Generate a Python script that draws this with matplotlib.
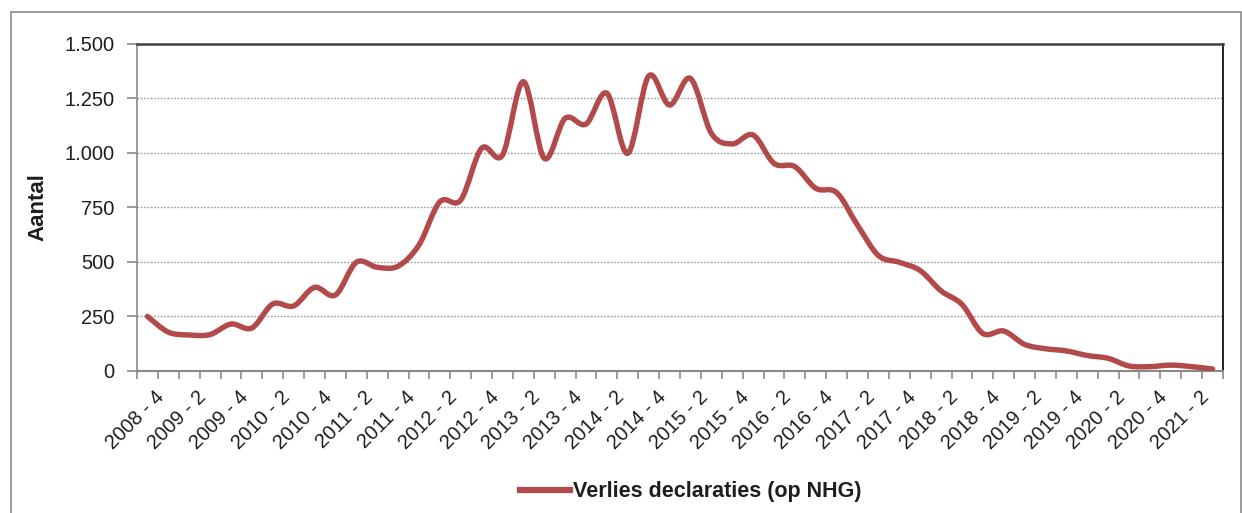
import matplotlib
matplotlib.use("Agg")
import matplotlib.pyplot as plt
from matplotlib.patches import PathPatch, Rectangle
from matplotlib.path import Path
from matplotlib.lines import Line2D
from matplotlib.ticker import FuncFormatter, FixedLocator

plt.rcParams["font.family"] = ["Liberation Sans", "DejaVu Sans"]

# quarters 2008-3 .. 2021-2
years = list(range(2008, 2022))
quarters = [(y, q) for y in years for q in (1, 2, 3, 4) if (2008, 3) <= (y, q) <= (2021, 2)]
quarter_labels = [f"{y} - {q}" for y, q in quarters]

verlies_declaraties = [
    250, 178, 165, 167, 215, 197, 307, 298, 383, 348,
    498, 475, 480, 577, 775, 783, 1020, 989, 1325, 974,
    1157, 1131, 1272, 997, 1351, 1218, 1340, 1089, 1040, 1081,
    951, 936, 837, 817, 668, 529, 498, 460, 367, 305,
    172, 183, 122, 102, 92, 71, 58, 23, 20, 27,
    20, 9,
]

y_ticks = [0, 250, 500, 750, 1000, 1250, 1500]

LINE_COLOR = "#b24a4c"
TEXT_COLOR = "#1e1e1e"


def smooth_path(xs, ys):
    # bezier segments with 1/6 tangents, the way spreadsheet "smoothed lines" work
    verts = [(xs[0], ys[0])]
    codes = [Path.MOVETO]
    n = len(xs)
    for i in range(n - 1):
        x0, y0 = (xs[i - 1], ys[i - 1]) if i > 0 else (xs[i], ys[i])
        x1, y1 = xs[i], ys[i]
        x2, y2 = xs[i + 1], ys[i + 1]
        x3, y3 = (xs[i + 2], ys[i + 2]) if i + 2 < n else (x2, y2)
        c1 = (x1 + (x2 - x0) / 6.0, y1 + (y2 - y0) / 6.0)
        c2 = (x2 - (x3 - x1) / 6.0, y2 - (y3 - y1) / 6.0)
        verts += [c1, c2, (x2, y2)]
        codes += [Path.CURVE4] * 3
    return Path(verts, codes)


fig = plt.figure(figsize=(12.42, 5.13), dpi=100)
fig.patches.append(Rectangle((11 / 1242, -0.1), 1230 / 1242, 1.1 - 12.5 / 513,
                             transform=fig.transFigure, fill=False,
                             edgecolor="#8a8a8a", linewidth=1.2))

ax = fig.add_axes([137 / 1242, 1 - 371 / 513, (1223 - 137) / 1242, (371 - 43.5) / 513])

xs = list(range(len(verlies_declaraties)))
ax.add_patch(PathPatch(smooth_path(xs, verlies_declaraties), fill=False,
                       edgecolor=LINE_COLOR, linewidth=3.9, capstyle="round",
                       joinstyle="round", zorder=3))

ax.set_xlim(-0.5, len(xs) - 0.5)
ax.set_ylim(0, 1500)

ax.set_yticks(y_ticks)
ax.yaxis.set_major_formatter(FuncFormatter(lambda v, _: f"{int(v):,}".replace(",", ".")))
ax.tick_params(axis="y", direction="out", length=7, width=1.2, color="#8a8a8a",
               pad=9, labelsize=14.5, labelcolor=TEXT_COLOR)

# labels on every second quarter, tick marks between categories
label_pos = xs[1::2]
ax.xaxis.set_major_locator(FixedLocator(label_pos))
ax.set_xticklabels(quarter_labels[1::2], rotation=45, ha="right", va="top",
                   fontsize=14.5, color=TEXT_COLOR)
ax.xaxis.set_minor_locator(FixedLocator([x - 0.5 for x in xs] + [xs[-1] + 0.5]))
ax.tick_params(axis="x", which="major", length=0, pad=12)
ax.tick_params(axis="x", which="minor", direction="out", length=6, width=1.2,
               color="#8a8a8a")

for y in y_ticks[1:-1]:
    ax.axhline(y, color="#9a9a9a", linewidth=1.0, linestyle=(0, (1.2, 1.2)), zorder=1)

ax.spines["left"].set_color("#8a8a8a")
ax.spines["left"].set_linewidth(1.2)
ax.spines["bottom"].set_color("#8a8a8a")
ax.spines["bottom"].set_linewidth(1.5)
ax.spines["top"].set_color("#404040")
ax.spines["top"].set_linewidth(1.8)
ax.spines["right"].set_color("#202020")
ax.spines["right"].set_linewidth(1.4)

ax.set_ylabel("Aantal", fontsize=16, fontweight="bold", color=TEXT_COLOR, labelpad=12)

handle = Line2D([], [], color=LINE_COLOR, linewidth=4.5)
fig.legend([handle], ["Verlies declaraties (op NHG)"], loc="center",
           bbox_to_anchor=(691 / 1242, 1 - 492 / 513), frameon=False,
           prop={"weight": "bold", "size": 15.5}, handlelength=2.3, handletextpad=0.15,
           labelcolor=TEXT_COLOR)

fig.savefig("out.png", dpi=100, facecolor="white")
